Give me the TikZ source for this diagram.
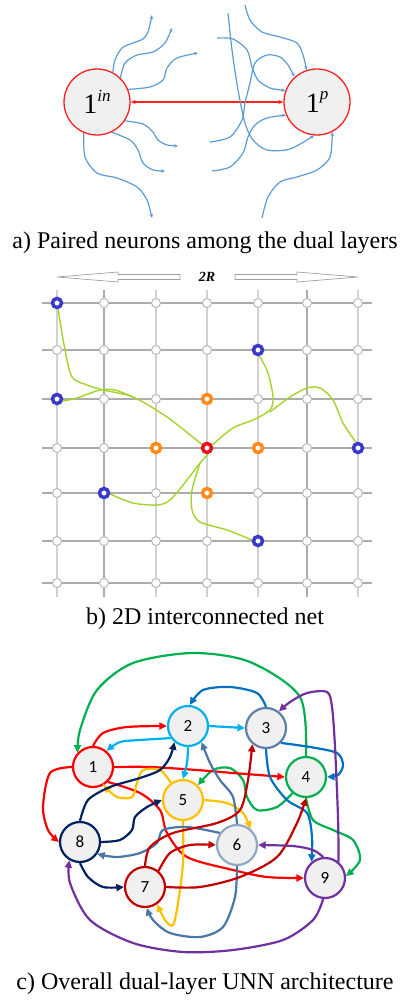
\documentclass[tikz,border=0pt]{standalone}
\usepackage{fontspec}
\setmainfont{Liberation Serif}
\newfontfamily\numfont{Carlito}
\usetikzlibrary{arrows.meta}

\definecolor{wireblue}{HTML}{5B9BD5}
\definecolor{pairred}{HTML}{FF2020}
\definecolor{cellfill}{HTML}{F0F0F0}
\definecolor{lime}{HTML}{A2D42A}
\definecolor{ringblue}{HTML}{3A3AC8}
\definecolor{ringorange}{HTML}{FF8A1E}
\definecolor{ringred}{HTML}{E8101A}
\definecolor{cred}{HTML}{FF0000}
\definecolor{csky}{HTML}{00B0F0}
\definecolor{cslate}{HTML}{5E7FA3}
\definecolor{cblue}{HTML}{0070C0}
\definecolor{cgreen}{HTML}{00B050}
\definecolor{cgold}{HTML}{FFC000}
\definecolor{cpale}{HTML}{8FA8C6}
\definecolor{csteel}{HTML}{4A76A8}
\definecolor{cdark}{HTML}{C00000}
\definecolor{cnavy}{HTML}{002060}
\definecolor{cpurple}{HTML}{7030A0}

\tikzset{
  neuron/.style={circle, draw=pairred, line width=1.3pt, fill=cellfill,
    minimum size=66pt, inner sep=0pt, font=\fontsize{28}{28}\selectfont},
  wire/.style={wireblue, line width=1.2pt, -{Stealth[length=4pt,width=3.5pt]}},
  gdot/.style={circle, draw=gray!55, fill=white, line width=1pt,
    minimum size=9pt, inner sep=0pt},
  hot/.style={gdot, draw=#1, line width=3.5pt},
  unit/.style={circle, draw=#1, line width=2.2pt, fill=cellfill,
    minimum size=40pt, inner sep=0pt, font=\numfont\fontsize{17}{17}\selectfont},
  link/.style={#1, line width=2.2pt, -{Triangle[length=7.5pt,width=7pt]}},
  caption/.style={font=\fontsize{24}{24}\selectfont}
}

\begin{document}
\begin{tikzpicture}[x=1pt,y=-1pt]
\useasboundingbox (0,0) rectangle (403,1000);

% a) paired neurons
\node[neuron] (nin) at (97,102) {1\raisebox{0.45em}{\fontsize{17}{17}\selectfont\itshape in}};
\node[neuron] (np) at (317,102) {1\raisebox{0.45em}{\fontsize{17}{17}\selectfont\itshape p}};
\draw[pairred, line width=1.3pt, {Stealth[length=5pt,width=4pt]}-{Stealth[length=5pt,width=4pt]}] (nin) -- (np);

\draw[wire] plot[smooth] coordinates {(nin.62) (115,60) (122,48) (133,43) (143,39) (148,32) (152,15)};
\draw[wire] plot[smooth] coordinates {(nin.46) (125,63) (137,55) (153,52) (165,43) (172,28)};
\draw[wire] plot[smooth] coordinates {(nin.22) (150,87) (163,80) (167,68) (177,58) (198,53)};
\draw[wire] plot[smooth] coordinates {(nin.-34) (143,124) (153,132) (158,140) (167,145) (178,146)};
\draw[wire] plot[smooth] coordinates {(nin.-64) (130,140) (138,150) (143,163) (153,170) (165,171)};
\draw[wire] plot[smooth] coordinates {(nin.-113) (85,157) (97,173) (117,178) (137,187) (147,200) (152,218)};

\draw[wire] plot[smooth] coordinates {(245,5) (250,20) (262,32) (280,37) (297,43) (303,55) (np.108)};
\draw[wire] plot[smooth] coordinates {(217,38) (233,39) (247,50) (252,67) (258,80) (270,88) (np.160)};
\draw[wire] plot[smooth] coordinates {(210,142) (230,137) (242,120) (245,103) (250,83) (255,63) (267,55) (280,57) (288,65) (np.132)};
\draw[wire] plot[smooth] coordinates {(228,13) (232,50) (238,90) (245,123) (253,140) (267,150) (290,149) (np.-95)};
\draw[wire] plot[smooth] coordinates {(212,171) (230,167) (243,153) (248,137) (255,125) (267,118) (np.203)};
\draw[wire] plot[smooth] coordinates {(262,218) (268,197) (280,182) (297,177) (317,170) (330,157) (np.-63)};

\node[caption] (capa) at (205,243) {a) Paired neurons among the dual layers};

% b) 2D net
\draw[gray!75, fill=white, line width=0.7pt] (180,274.5) -- (118,274.5) -- (118,272) -- (57,277) -- (118,282) -- (118,279.5) -- (180,279.5) -- cycle;
\draw[gray!75, fill=white, line width=0.7pt] (235,274.5) -- (297,274.5) -- (297,272) -- (358,277) -- (297,282) -- (297,279.5) -- (235,279.5) -- cycle;
\node[font=\bfseries\itshape\fontsize{14}{14}\selectfont] (span) at (207,277) {2R};

\foreach \x in {57,156,207,258,358}
  \draw[gray!35, line width=1.4pt] (\x,290) -- (\x,597);
\foreach \x in {104,307}
  \draw[gray!65, line width=1.4pt] (\x,290) -- (\x,597);
\foreach \y in {303,350,399,448,493,541,583}
  \draw[gray!65, line width=1.4pt] (42,\y) -- (372,\y);

\foreach \x [count=\i] in {57,104,156,207,258,307,358}
  \foreach \y [count=\j] in {303,350,399,448,493,541,583}
    \node[gdot] (g\i\j) at (\x,\y) {};

\node[hot=ringorange] (o1) at (207,399) {};
\node[hot=ringorange] (o2) at (156,448) {};
\node[hot=ringorange] (o3) at (258,448) {};
\node[hot=ringorange] (o4) at (207,493) {};
\node[hot=ringred] (ctr) at (207,448) {};
\node[hot=ringblue] (b1) at (57,303) {};
\node[hot=ringblue] (b2) at (258,350) {};
\node[hot=ringblue] (b3) at (57,399) {};
\node[hot=ringblue] (b4) at (358,448) {};
\node[hot=ringblue] (b5) at (104,493) {};
\node[hot=ringblue] (b6) at (258,541) {};

\draw[lime, line width=1.4pt] plot[smooth] coordinates {(b1.-80) (65,350) (72,377) (87,385) (103,390) (133,397) (167,417) (ctr.145)};
\draw[lime, line width=1.4pt] plot[smooth] coordinates {(b3.-20) (77,398) (100,390) (115,390) (133,397)};
\draw[lime, line width=1.4pt] plot[smooth] coordinates {(b2.-75) (268,373) (273,397) (270,410) (253,420) (233,428) (ctr.30)};
\draw[lime, line width=1.4pt] plot[smooth] coordinates {(b4.110) (343,423) (333,400) (320,388) (307,388) (290,397) (270,412)};
\draw[lime, line width=1.4pt] plot[smooth] coordinates {(b5.-10) (133,503) (157,505) (170,500) (187,480) (200,463) (ctr.-80)};
\draw[lime, line width=1.4pt] plot[smooth] coordinates {(b6.170) (227,530) (200,522) (192,510) (192,490) (200,463)};

\node[caption] (capb) at (205,619) {b) 2D interconnected net};

% c) overall architecture
\node[unit=cred] (n1) at (93,767) {1};
\node[unit=csky] (n2) at (188,726) {2};
\node[unit=cslate] (n3) at (266,728) {3};
\node[unit=cgreen] (n4) at (306,777) {4};
\node[unit=cgold] (n5) at (183,800) {5};
\node[unit=cpale] (n6) at (237,845) {6};
\node[unit=cdark] (n7) at (145,887) {7};
\node[unit=cnavy] (n8) at (80,842) {8};
\node[unit=cpurple] (n9) at (325,878) {9};

% green
\draw[link=cgreen] plot[smooth] coordinates {(n4.90) (300,697) (250,662) (193,653) (133,663) (97,690) (80,730) (n1.137)};
\draw[link=cgreen] plot[smooth] coordinates {(n4.230) (277,807) (257,810) (247,797) (243,780) (230,768) (213,770) (n5.45)};
\draw[link=cgreen] plot[smooth] coordinates {(n4.-90) (313,820) (333,830) (353,840) (360,860) (n9.5)};
% red
\draw[link=cred] plot[smooth] coordinates {(n1.90) (103,733) (127,727) (n2.180)};
\draw[link=cred] plot[smooth] coordinates {(n1.0) (150,767) (197,770) (233,773) (n4.180)};
\draw[link=cred] plot[smooth] coordinates {(n1.180) (50,773) (43,807) (48,830) (n8.180)};
\draw[link=cred] plot[smooth] coordinates {(n1.-45) (140,793) (160,810) (167,833) (187,857) (233,870) (267,877) (n9.180)};
% light blue
\draw[link=csky] plot[smooth] coordinates {(n2.215) (140,740) (120,742) (n1.50)};
\draw[link=csky] plot[smooth] coordinates {(n2.0) (227,727) (n3.180)};
\draw[link=csky] plot[smooth] coordinates {(n2.-90) (187,763) (n5.90)};
% blue
\draw[link=cblue] plot[smooth] coordinates {(n3.90) (257,693) (230,687) (203,690) (n2.85)};
\draw[link=cblue] plot[smooth] coordinates {(n3.-45) (310,747) (337,753) (343,765) (338,775) (n4.0)};
\draw[link=cblue] plot[smooth] coordinates {(n3.-90) (270,777) (287,800) (307,813) (312,837) (n9.130)};
% gold
\draw[link=cgold] plot[smooth] coordinates {(n5.125) (160,770) (143,770) (137,783) (132,797) (117,797) (n1.-60)};
\draw[link=cgold] plot[smooth] coordinates {(n5.0) (227,803) (243,813) (n6.50)};
\draw[link=cgold] plot[smooth] coordinates {(n5.-90) (183,863) (178,903) (173,925) (165,920) (n7.-55)};
% steel
\draw[link=csteel] plot[smooth] coordinates {(n6.90) (233,797) (220,780) (210,763) (n2.-50)};
\draw[link=csteel] plot[smooth] coordinates {(n6.145) (187,827) (163,830) (157,843) (140,853) (117,857) (n8.-35)};
\draw[link=csteel] plot[smooth] coordinates {(n6.-90) (235,897) (223,927) (200,937) (170,933) (153,920) (n7.-85)};
% dark red
\draw[link=cdark] plot[smooth] coordinates {(n7.90) (150,847) (173,833) (217,823) (240,810) (248,780) (n3.230)};
\draw[link=cdark] plot[smooth] coordinates {(n7.50) (170,853) (190,845) (n6.180)};
\draw[link=cdark] plot[smooth] coordinates {(n7.0) (200,887) (240,877) (277,857) (297,823) (n4.-90)};
% navy
\draw[link=cnavy] plot[smooth] coordinates {(n8.90) (88,800) (110,787) (140,778) (160,770) (170,757) (n2.230)};
\draw[link=cnavy] plot[smooth] coordinates {(n8.0) (120,840) (132,830) (135,817) (147,807) (n5.180)};
\draw[link=cnavy] plot[smooth] coordinates {(n8.-90) (88,877) (103,887) (n7.180)};
% purple
\draw[link=cpurple] plot[smooth] coordinates {(n9.50) (338,817) (335,747) (332,707) (327,692) (307,693) (290,702) (n3.52)};
\draw[link=cpurple] plot[smooth] coordinates {(n9.95) (313,850) (293,846) (n6.0)};
\draw[link=cpurple] plot[smooth] coordinates {(n9.-95) (313,920) (283,940) (233,950) (183,952) (133,943) (90,920) (70,883) (n8.240)};

\node[caption] (capc) at (205,984) {c) Overall dual-layer UNN architecture};
\end{tikzpicture}
\end{document}
